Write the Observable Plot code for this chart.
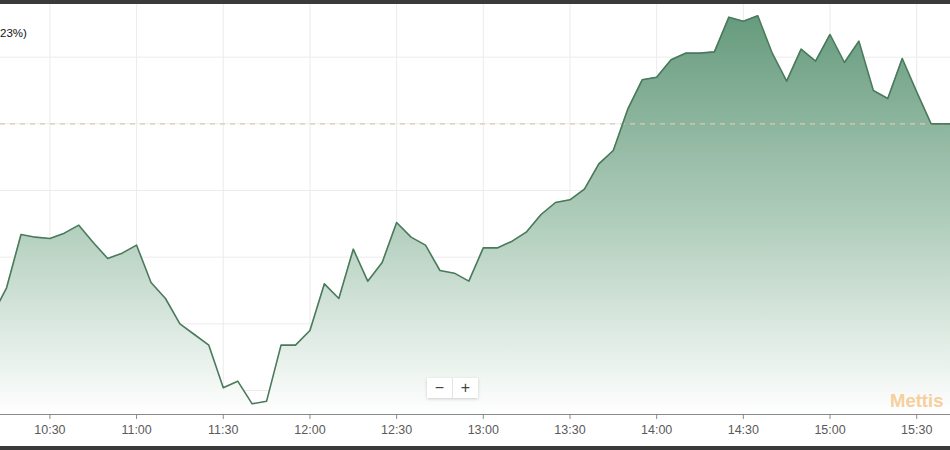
<!DOCTYPE html>
<html>
<head>
<meta charset="utf-8">
<script src="https://cdn.jsdelivr.net/npm/d3@7"></script>
<script src="https://cdn.jsdelivr.net/npm/@observablehq/plot@0.6"></script>
<style>
  html, body { margin: 0; padding: 0; background: #3a3a3a; width: 950px; height: 450px; overflow: hidden; }
  #wrap { position: relative; margin-top: 4px; width: 950px; height: 442px; background: #fff; overflow: hidden; font-family: "Liberation Sans", Arial, sans-serif; }
  #title { position: absolute; left: 0px; top: 23px; font-size: 11.5px; color: #111; }
  #zoom { position: absolute; left: 427px; top: 374px; width: 51px; height: 20px; background: #fff; box-shadow: 0 1px 3px rgba(0,0,0,0.18); display: flex; font-size: 16px; color: #444; }
  #zoom span { flex: 1; text-align: center; line-height: 19px; }
  #zoom span + span { border-left: 1px solid #e4e4e4; }
  #mark { position: absolute; left: 890px; top: 386px; font-size: 18.5px; font-weight: bold; color: #f6c17c; opacity: 0.75; white-space: nowrap; }
</style>
</head>
<body>
<div id="wrap">
  <div id="chart"></div>
  <div id="title">23%)</div>
  <div id="zoom"><span>−</span><span>+</span></div>
  <div id="mark">Mettis</div>
</div>
<script>
const times = ["10:10","10:15","10:20","10:25","10:30","10:35","10:40","10:45","10:50","10:55",
  "11:00","11:05","11:10","11:15","11:20","11:25","11:30","11:35","11:40","11:45","11:50","11:55",
  "12:00","12:05","12:10","12:15","12:20","12:25","12:30","12:35","12:40","12:45","12:50","12:55",
  "13:00","13:05","13:10","13:15","13:20","13:25","13:30","13:35","13:40","13:45","13:50","13:55",
  "14:00","14:05","14:10","14:15","14:20","14:25","14:30","14:35","14:40","14:45","14:50","14:55",
  "15:00","15:05","15:10","15:15","15:20","15:25","15:30","15:35","15:40","15:45"];
const values = [45856,45877,45917,45915,45914,45918,45924,45911,45899,45903,
  45909,45881,45869,45850,45842,45834,45802,45807,45790,45792,45834,45834,
  45845,45880,45869,45906,45882,45896,45926,45915,45909,45890,45888,45882,
  45907,45907,45912,45919,45932,45941,45943,45951,45970,45980,46011,46033,
  46035,46048,46053,46053,46054,46080,46077,46081,46053,46032,46056,46047,
  46067,46046,46062,46025,46019,46049,46024,46000,46000,46000];
const tickLabels = ["10:30","11:00","11:30","12:00","12:30","13:00","13:30","14:00","14:30","15:00","15:30"];
const yTicks = [45800,45850,45900,45950,46000,46050];
const prevClose = 46000;

const toMin = s => { const [h, m] = s.split(":").map(Number); return h * 60 + m; };
const data = times.map((t, i) => ({t: toMin(t), value: values[i]}));
const xTicks = tickLabels.map(toMin);
const xDomain = [612.9, 941.7];
const yDomain = [45782, 46089.5];

const chart = Plot.plot({
  width: 950,
  height: 442,
  marginTop: 0,
  marginRight: 0,
  marginLeft: 0,
  marginBottom: 32,
  style: {background: "transparent", fontFamily: "'Liberation Sans', Arial, sans-serif"},
  x: {domain: xDomain, axis: null, label: null},
  y: {domain: yDomain, axis: null, label: null},
  marks: [
    Plot.gridX(xTicks, {stroke: "#ebebeb", strokeOpacity: 1}),
    Plot.gridY(yTicks, {stroke: "#ebebeb", strokeOpacity: 1}),
    Plot.areaY(data, {x: "t", y1: () => yDomain[0], y2: "value", fill: "url(#areaGrad)", clip: true}),
    Plot.ruleY([prevClose], {stroke: "#d8ccb2", strokeWidth: 1.3, strokeDasharray: "5,5"}),
    Plot.line(data, {x: "t", y: "value", stroke: "#4a7a5b", strokeWidth: 1.6, clip: true}),
    Plot.ruleY([yDomain[0]], {stroke: "#8a8a8a", strokeWidth: 1}),
    Plot.axisX(xTicks, {
      tickSize: 5, tickPadding: 6, stroke: "#8a8a8a", label: null,
      tickFormat: (d) => tickLabels[xTicks.indexOf(d)],
      fontSize: 12.5, fill: "#5a5a5a"
    })
  ]
});

const ns = "http://www.w3.org/2000/svg";
const defs = document.createElementNS(ns, "defs");
const grad = document.createElementNS(ns, "linearGradient");
grad.setAttribute("id", "areaGrad");
grad.setAttribute("gradientUnits", "userSpaceOnUse");
grad.setAttribute("x1", "0"); grad.setAttribute("x2", "0");
grad.setAttribute("y1", "0"); grad.setAttribute("y2", "410");
[["0", "#62987a", 1], ["0.55", "#b3cfbe", 1], ["1", "#ffffff", 1]].forEach(([o, c, op]) => {
  const s = document.createElementNS(ns, "stop");
  s.setAttribute("offset", o); s.setAttribute("stop-color", c); s.setAttribute("stop-opacity", op);
  grad.appendChild(s);
});
defs.appendChild(grad);
chart.insertBefore(defs, chart.firstChild);
document.getElementById("chart").appendChild(chart);
</script>
</body>
</html>
